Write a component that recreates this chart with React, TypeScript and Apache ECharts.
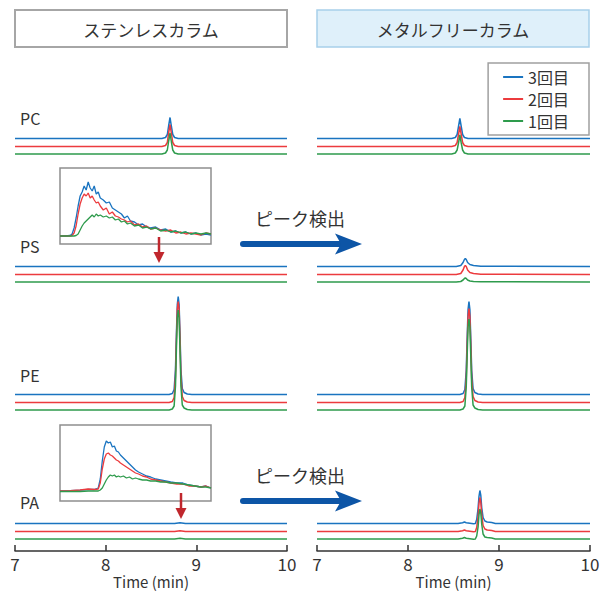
import React, { useEffect, useRef } from 'react';
import * as echarts from 'echarts';

const FONT = '"Noto Sans CJK JP", "Noto Sans", sans-serif';

const RUN_NAMES = ['1回目', '2回目', '3回目'];
const RUN_COLORS = ['#2e9b4c', '#ec3b3e', '#1a74c0'];
const RUN_OFFSETS = [0, 7.5, 15.5];
const LEGEND_ORDER = ['3回目', '2回目', '1回目'];

const SAMPLES = ['PC', 'PS', 'PE', 'PA'];
const COLUMN_TITLES = ['ステンレスカラム', 'メタルフリーカラム'];
const ARROW_LABEL = 'ピーク検出';
const X_NAME = 'Time (min)';
const X_MIN = 7;
const X_MAX = 10;
const X_INTERVAL = 1;

// ---------- stainless column (left) ----------
const pcTimeL = [7.0, 8.62, 8.66, 8.68, 8.695, 8.71, 8.725, 8.74, 8.76, 8.8, 10.0];
const pcL1 = [0, 0, 1, 4, 13, 21, 12, 4, 1, 0, 0];
const pcL2 = [0, 0, 1, 4, 14, 22, 13, 4, 1, 0, 0];
const pcL3 = [0, 0, 1, 4, 13, 21, 12, 4, 1, 0, 0];

const psTimeL = [7.0, 10.0];
const psL1 = [0, 0];
const psL2 = [0, 0];
const psL3 = [0, 0];

const peTimeL = [7.0, 8.7, 8.735, 8.755, 8.77, 8.78, 8.79, 8.8, 8.81, 8.82, 8.83, 8.845, 8.865, 8.9, 8.95, 10.0];
const peL1 = [0, 0, 1, 4, 24, 60, 92, 100, 92, 60, 24, 5, 2, 0.5, 0, 0];
const peL2 = [0, 0, 1, 5, 26, 62, 93, 101, 93, 62, 26, 6, 2, 0.5, 0, 0];
const peL3 = [0, 0, 1, 5, 25, 60, 90, 98, 90, 60, 25, 6, 2, 0.5, 0, 0];

const paTimeL = [7.0, 8.76, 8.8, 8.82, 8.84, 8.88, 10.0];
const paL1 = [0, 0, 0.5, 0.7, 0.5, 0, 0];
const paL2 = [0, 0, 0.6, 0.8, 0.6, 0, 0];
const paL3 = [0, 0, 0.6, 0.8, 0.6, 0, 0];

// ---------- metal-free column (right) ----------
const pcTimeR = [7.0, 8.48, 8.52, 8.54, 8.555, 8.57, 8.585, 8.6, 8.62, 8.66, 10.0];
const pcR1 = [0, 0, 1, 4, 11, 19, 11, 4, 1, 0, 0];
const pcR2 = [0, 0, 1, 4, 12, 20, 12, 4, 1, 0, 0];
const pcR3 = [0, 0, 1, 4, 12, 20, 12, 4, 1, 0, 0];

const psTimeR = [7.0, 8.53, 8.58, 8.605, 8.62, 8.63, 8.64, 8.655, 8.68, 8.72, 8.8, 10.0];
const psR1 = [0, 0, 0.5, 2, 3.5, 4, 3.5, 2, 1, 0.5, 0.2, 0];
const psR2 = [0, 0, 1, 4.5, 8, 9, 8, 4.5, 2, 1, 0.3, 0];
const psR3 = [0, 0, 1, 4, 7, 8, 7, 4, 2, 1, 0.3, 0];

const peTimeR = [7.0, 8.57, 8.605, 8.625, 8.64, 8.65, 8.66, 8.67, 8.68, 8.69, 8.7, 8.715, 8.735, 8.77, 8.82, 10.0];
const peR1 = [0, 0, 1, 4, 23, 54, 83, 91, 83, 54, 23, 5, 2, 0.5, 0, 0];
const peR2 = [0, 0, 1, 5, 24, 57, 86, 94, 86, 57, 24, 6, 2, 0.5, 0, 0];
const peR3 = [0, 0, 1, 5, 24, 56, 85, 93, 85, 56, 24, 6, 2, 0.5, 0, 0];

const paTimeR = [7.0, 8.55, 8.6, 8.62, 8.64, 8.7, 8.72, 8.74, 8.755, 8.77, 8.78, 8.79, 8.8, 8.81, 8.825, 8.845, 8.87, 8.92, 8.96, 10.0];
const paR1 = [0, 0, 0.8, 1.5, 0.8, 0, -0.3, 0, 3, 12, 24, 30, 26, 15, 5, 2, 1.5, 1, 0, 0];
const paR2 = [0, 0, 0.8, 1.5, 0.8, 0, -0.3, 0, 4, 15, 28, 34, 29, 17, 6, 2.5, 1.5, 1, 0, 0];
const paR3 = [0, 0, 0.8, 1.5, 0.8, 0, -0.3, 0, 4, 15, 27, 33, 28, 16, 6, 2.5, 1.5, 1, 0, 0];

// ---------- insets (enlarged views of the stainless-column PS / PA traces) ----------
const psInsetX = [0, 5, 10, 12, 14, 16, 18, 20, 22, 24, 26, 28, 30, 32, 34, 36, 38, 40, 43, 46, 49, 52, 55, 58, 61, 64, 67, 70, 74, 78, 82, 86, 90, 95, 100, 105, 110, 115, 120, 125, 130, 135, 140, 145, 150];
const psInset1 = [0, 0, 0, 0, 0, 0.5, 2, 6, 10, 13, 15, 17, 19, 21, 19, 22, 20, 21, 19, 20, 18, 19, 16, 17, 14, 15, 12, 13, 10, 11, 8, 9, 7, 8, 5, 6, 4, 5, 3, 4, 2, 3, 2, 3, 2];
const psInset2 = [0, 0, 0, 0.5, 3, 10, 22, 32, 38, 42, 40, 43, 38, 40, 36, 33, 34, 30, 26, 28, 22, 24, 20, 19, 17, 16, 14, 15, 11, 12, 9, 10, 7, 8, 6, 5, 6, 3, 4, 2, 3, 2, 1, 3, 2];
const psInset3 = [0, 0, 0.5, 2, 8, 18, 30, 40, 44, 50, 46, 54, 48, 45, 50, 42, 44, 38, 36, 33, 34, 28, 26, 24, 22, 18, 20, 15, 14, 11, 12, 9, 8, 9, 6, 7, 4, 5, 3, 4, 2, 3, 1, 2, 1];

const paInsetX = [0, 10, 20, 28, 34, 38, 40, 42, 44, 46, 48, 50, 52, 54, 56, 58, 60, 63, 66, 69, 72, 75, 78, 82, 86, 90, 95, 100, 105, 110, 116, 122, 128, 134, 140, 145, 150];
const paInset1 = [-0.5, -0.5, -0.5, 0, 0, 0, 1, 3, 7, 11, 14, 16, 15, 16, 14, 15, 14, 15, 13, 14, 12, 13, 12, 11, 11, 10, 10, 9, 9, 8, 8, 7, 6, 5, 4, 4, 3];
const paInset2 = [0, 0.3, 1, 2, 1.5, 2, 8, 22, 32, 37, 38, 36, 35, 33, 31, 30, 28, 26, 24, 22, 20, 18, 17, 15, 14, 12, 11, 10, 9, 8, 7, 7, 5, 5, 4, 5, 3];
const paInset3 = [0, 0.3, 0.8, 1.5, 1.5, 3, 12, 30, 44, 50, 48, 49, 44, 45, 40, 39, 36, 33, 30, 27, 24, 21, 19, 17, 15, 14, 12, 11, 10, 9, 8, 8, 6, 5, 4, 5, 3];

const PANELS = [
  [
    { times: pcTimeL, runs: [pcL1, pcL2, pcL3] },
    { times: psTimeL, runs: [psL1, psL2, psL3] },
    { times: peTimeL, runs: [peL1, peL2, peL3] },
    { times: paTimeL, runs: [paL1, paL2, paL3] },
  ],
  [
    { times: pcTimeR, runs: [pcR1, pcR2, pcR3] },
    { times: psTimeR, runs: [psR1, psR2, psR3] },
    { times: peTimeR, runs: [peR1, peR2, peR3] },
    { times: paTimeR, runs: [paR1, paR2, paR3] },
  ],
];

const INSETS = [
  { x: psInsetX, runs: [psInset1, psInset2, psInset3] },
  { x: paInsetX, runs: [paInset1, paInset2, paInset3] },
];

// ---------- layout ----------
const COL_LAYOUT = [
  { left: 15, width: 272 },
  { left: 317, width: 273 },
];
const ROW_TOPS = [34, 162, 290, 419];
const ROW_HEIGHT = 120;
const Y_MAX = 120;
const INSET_LAYOUT = [
  { left: 60, top: 168, width: 151, height: 76, yMin: -8, yMax: 68 },
  { left: 60, top: 425, width: 151, height: 76, yMin: -10, yMax: 66 },
];
const ROW_LABEL_Y = [118, 246, 375, 502];
const TEXT_COLOR = '#333';

function buildOption() {
  const grid: any[] = [];
  const xAxis: any[] = [];
  const yAxis: any[] = [];
  const series: any[] = [];

  PANELS.forEach((col, c) => {
    col.forEach((panel, r) => {
      const idx = grid.length;
      grid.push({
        left: COL_LAYOUT[c].left,
        width: COL_LAYOUT[c].width,
        top: ROW_TOPS[r],
        height: ROW_HEIGHT,
      });
      const isBottom = r === SAMPLES.length - 1;
      xAxis.push({
        gridIndex: idx,
        type: 'value',
        min: X_MIN,
        max: X_MAX,
        interval: X_INTERVAL,
        show: isBottom,
        offset: 12,
        axisLine: { show: true, onZero: false, lineStyle: { color: TEXT_COLOR, width: 1.5 } },
        axisTick: { show: true, inside: true, length: 6, lineStyle: { color: TEXT_COLOR, width: 1.5 } },
        axisLabel: { fontSize: 17, color: TEXT_COLOR, margin: 4, fontFamily: FONT },
        splitLine: { show: false },
        name: isBottom ? X_NAME : '',
        nameLocation: 'middle',
        nameGap: 22,
        nameTextStyle: { fontSize: 15, color: TEXT_COLOR, fontFamily: FONT, lineHeight: 16 },
      });
      yAxis.push({ gridIndex: idx, type: 'value', min: 0, max: Y_MAX, show: false });
      [2, 1, 0].forEach((run) => {
        series.push({
          type: 'line',
          name: RUN_NAMES[run],
          xAxisIndex: idx,
          yAxisIndex: idx,
          data: panel.times.map((t, i) => [t, panel.runs[run][i] + RUN_OFFSETS[run]]),
          showSymbol: false,
          symbol: 'none',
          clip: false,
          silent: true,
          lineStyle: { color: RUN_COLORS[run], width: 1.5 },
          itemStyle: { color: RUN_COLORS[run] },
        });
      });
    });
  });

  INSETS.forEach((inset, k) => {
    const idx = grid.length;
    const L = INSET_LAYOUT[k];
    grid.push({
      left: L.left,
      top: L.top,
      width: L.width,
      height: L.height,
      show: true,
      backgroundColor: '#fff',
      borderColor: '#8e8e8e',
      borderWidth: 1.5,
    });
    xAxis.push({ gridIndex: idx, type: 'value', min: 0, max: 150, show: false });
    yAxis.push({ gridIndex: idx, type: 'value', min: L.yMin, max: L.yMax, show: false });
    [2, 1, 0].forEach((run) => {
      series.push({
        type: 'line',
        name: RUN_NAMES[run],
        xAxisIndex: idx,
        yAxisIndex: idx,
        data: inset.x.map((x, i) => [x, inset.runs[run][i]]),
        showSymbol: false,
        symbol: 'none',
        silent: true,
        lineStyle: { color: RUN_COLORS[run], width: 1.3 },
        itemStyle: { color: RUN_COLORS[run] },
      });
    });
  });

  const graphic: any[] = [];
  COLUMN_TITLES.forEach((title, c) => {
    const L = COL_LAYOUT[c];
    graphic.push({
      type: 'rect',
      shape: { x: L.left, y: 10, width: 272, height: 37 },
      style: c === 0
        ? { fill: '#ffffff', stroke: '#a6a6a6', lineWidth: 2 }
        : { fill: '#dff0fa', stroke: '#a8d0ea', lineWidth: 1.5 },
    });
    graphic.push({
      type: 'text',
      x: L.left + 136,
      y: 29,
      style: {
        text: title,
        fontSize: 17,
        fontFamily: FONT,
        fill: TEXT_COLOR,
        align: 'center',
        verticalAlign: 'middle',
      },
    });
  });
  SAMPLES.forEach((s, r) => {
    graphic.push({
      type: 'text',
      x: 20,
      y: ROW_LABEL_Y[r],
      style: { text: s, fontSize: 16, fontFamily: FONT, fill: TEXT_COLOR, align: 'left', verticalAlign: 'middle' },
    });
  });
  [244, 501].forEach((ay) => {
    graphic.push({
      type: 'text',
      x: 300,
      y: ay - 26,
      style: { text: ARROW_LABEL, fontSize: 18, fontFamily: FONT, fill: TEXT_COLOR, align: 'center', verticalAlign: 'middle' },
      z: 100,
    });
    graphic.push({
      type: 'line',
      shape: { x1: 243, y1: ay, x2: 340, y2: ay },
      style: { stroke: '#0d55a6', lineWidth: 6, lineCap: 'round' },
      z: 100,
    });
    graphic.push({
      type: 'polygon',
      shape: { points: [[335, ay - 10.5], [362, ay], [335, ay + 10.5], [341, ay]] },
      style: { fill: '#0d55a6' },
      z: 100,
    });
  });
  [
    { x: 159, y1: 237, y2: 263 },
    { x: 181, y1: 493, y2: 519 },
  ].forEach((a) => {
    graphic.push({
      type: 'line',
      shape: { x1: a.x, y1: a.y1, x2: a.x, y2: a.y2 - 9 },
      style: { stroke: '#c0272d', lineWidth: 2.5 },
      z: 100,
    });
    graphic.push({
      type: 'polygon',
      shape: { points: [[a.x - 5.5, a.y2 - 11], [a.x + 5.5, a.y2 - 11], [a.x, a.y2]] },
      style: { fill: '#c0272d' },
      z: 100,
    });
  });

  return {
    animation: false,
    backgroundColor: '#ffffff',
    textStyle: { fontFamily: FONT },
    legend: {
      data: LEGEND_ORDER,
      orient: 'vertical',
      right: 17,
      top: 63,
      icon: 'rect',
      itemWidth: 20,
      itemHeight: 2,
      itemGap: 6,
      padding: [6, 20, 6, 15],
      borderColor: '#a0a0a0',
      borderWidth: 1.5,
      backgroundColor: '#ffffff',
      selectedMode: false,
      textStyle: { fontSize: 16, color: TEXT_COLOR, fontFamily: FONT, lineHeight: 15 },
    },
    grid,
    xAxis,
    yAxis,
    series,
    graphic,
  };
}

export default function App() {
  const ref = useRef<HTMLDivElement>(null);
  useEffect(() => {
    document.body.style.margin = '0';
    if (!ref.current) return;
    const chart = echarts.init(ref.current, undefined, { renderer: 'svg' });
    chart.setOption(buildOption() as any);
    return () => chart.dispose();
  }, []);
  return <div ref={ref} style={{ width: 606, height: 591 }} />;
}
